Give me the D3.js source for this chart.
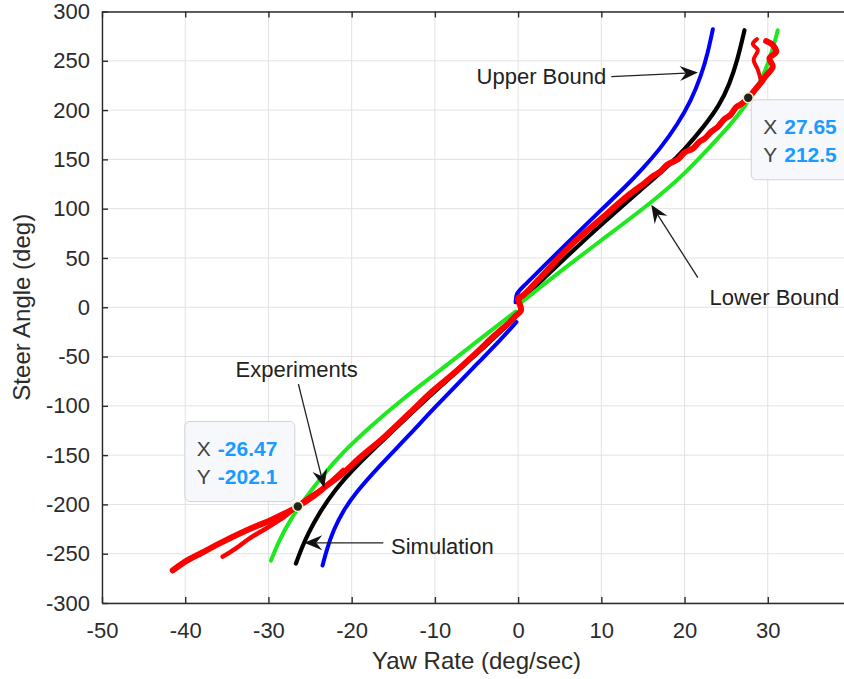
<!DOCTYPE html>
<html>
<head>
<meta charset="utf-8">
<script src="https://cdn.jsdelivr.net/npm/d3@7"></script>
<style>
  body { margin: 0; background: #fff; }
  svg { display: block; font-family: "Liberation Sans", Arial, sans-serif; }
  .grid line { stroke: #e2e2e2; stroke-width: 1; }
  .axis path, .axis line { stroke: #2b2b2b; stroke-width: 1.4; }
  .axis text { fill: #2b2b2b; font-size: 22px; font-family: "Liberation Sans", Arial, sans-serif; }
  .curve { fill: none; stroke-linecap: round; stroke-linejoin: round; }
  .note { fill: #222; font-size: 22px; }
</style>
</head>
<body>
<svg width="844" height="679"></svg>
<script>
var svg = d3.select("svg");

// tick values (the 40 tick sits on the cropped right edge)
var xTicks = [-50, -40, -30, -20, -10, 0, 10, 20, 30];
var yTicks = [-300, -250, -200, -150, -100, -50, 0, 50, 100, 150, 200, 250, 300];

// upper bound (blue), two branches split at zero
var upperNeg = [[-23.5, -262], [-23, -246], [-22.2, -226], [-21, -206], [-19.5, -188], [-16.8, -162],
                [-13, -129], [-10.4, -105], [-5, -58], [-2, -32], [-0.2, -15]];
var upperPos = [[-0.3, 5], [-0.25, 14], [0.5, 20], [3, 41], [6, 66], [10, 99], [13, 123], [15, 141],
                [17, 160], [19.2, 186], [20.8, 210], [22, 235], [22.8, 258], [23.4, 282]];

// simulation (black)
var simNeg = [[-26.7, -260], [-26, -244], [-25.2, -229], [-24, -210], [-22, -185], [-19.5, -161],
              [-15, -125], [-10.4, -88], [-5, -48], [-0.4, -11]];
var simPos = [[0.2, 6], [5, 45], [10, 84], [15, 121], [18, 143], [20, 160], [22.4, 184], [24.2, 205],
              [25.4, 226], [26.4, 252], [27.2, 281]];

// lower bound (green)
var lowerNeg = [[-29.7, -257], [-28.8, -238], [-27.5, -217], [-25.6, -194], [-23.5, -171], [-21.2, -148],
                [-17.5, -119], [-14, -94], [-10, -68], [-5, -35], [-0.3, -4.5]];
var lowerPos = [[0.1, 3], [5, 36], [10, 68], [16, 106], [20, 135], [23.2, 164], [25.5, 185], [27.2, 203],
                [28.5, 220], [29.4, 234], [30.1, 249], [30.7, 265], [31.2, 281]];

// experiments (red), several noisy runs
var expMain = [[-41.5, -267], [-40, -258], [-38, -249], [-35.5, -238], [-32, -224],
               [-30, -217], [-28, -209], [-26.47, -202.1], [-24.5, -191], [-23, -181], [-21, -168],
               [-19.2, -154], [-16, -131], [-13, -107], [-10.4, -86], [-8, -69], [-5, -46], [-3, -30],
               [-1, -15], [-0.4, -9.5], [0.35, -3], [0.15, 4], [0, 9], [0.6, 12], [3, 33], [6, 60],
               [10, 90], [13, 112], [15.2, 126], [16.2, 133], [17, 137], [18, 145], [19.2, 150], [20, 157],
               [21, 161], [21.8, 168], [22.4, 171], [23.2, 178], [24, 183], [24.8, 191], [25.5, 195],
               [26.2, 203], [26.8, 206], [27.65, 212.5], [28.6, 222], [29.2, 228], [29.7, 234], [30.6, 244],
               [30.2, 252.5], [31, 259], [30.6, 266], [29.8, 270]];
var expRun2 = [[29.2, 229], [28.8, 241], [28.3, 251], [28.8, 261], [28.2, 267], [28.7, 272]];
var expRun3 = [[-21, -165], [-23.5, -184], [-25.5, -195], [-27, -205], [-28, -212], [-30, -223],
               [-32, -233], [-34, -245], [-35.5, -253]];

// data tips
var tipX = [27.65, -26.47];
var tipY = [212.5, -202.1];

var x = d3.scaleLinear().domain([-50, 40]).range([102, 851]);
var y = d3.scaleLinear().domain([-300, 300]).range([603, 11.5]);

var gridG = svg.append("g").attr("class", "grid");
gridG.selectAll(".gx").data(xTicks).enter().append("line")
  .attr("x1", d => x(d)).attr("x2", d => x(d))
  .attr("y1", y(300)).attr("y2", y(-300));
gridG.selectAll(".gy").data(yTicks).enter().append("line")
  .attr("x1", x(-50)).attr("x2", x(40))
  .attr("y1", d => y(d)).attr("y2", d => y(d));

var fmt = d => String(d);

svg.append("g").attr("class", "axis")
  .attr("transform", "translate(0," + y(-300) + ")")
  .call(d3.axisBottom(x).tickValues(xTicks).tickFormat(fmt).tickSizeInner(-6).tickSizeOuter(0).tickPadding(19));
svg.append("g").attr("class", "axis")
  .attr("transform", "translate(" + x(-50) + ",0)")
  .call(d3.axisLeft(y).tickValues(yTicks).tickFormat(fmt).tickSizeInner(-6).tickSizeOuter(0).tickPadding(12));
svg.append("g").attr("class", "axis")
  .attr("transform", "translate(0," + y(300) + ")")
  .call(d3.axisTop(x).tickValues(xTicks).tickFormat("").tickSizeInner(-6).tickSizeOuter(0));
svg.append("g").attr("class", "axis")
  .attr("transform", "translate(" + x(40) + ",0)")
  .call(d3.axisRight(y).tickValues(yTicks).tickFormat("").tickSizeInner(-6).tickSizeOuter(0));

// axis titles
svg.append("text")
  .attr("x", (x(-50) + x(40)) / 2).attr("y", 669)
  .attr("text-anchor", "middle").attr("fill", "#2b2b2b").attr("font-size", 24)
  .text("Yaw Rate (deg/sec)");
svg.append("text")
  .attr("transform", "translate(30," + (y(300) + y(-300)) / 2 + ") rotate(-90)")
  .attr("text-anchor", "middle").attr("fill", "#2b2b2b").attr("font-size", 24)
  .text("Steer Angle (deg)");

// smooth model curves, looser curve for the measured runs
var smooth = d3.line().x(d => x(d[0])).y(d => y(d[1])).curve(d3.curveBasis);
var rough = d3.line().x(d => x(d[0])).y(d => y(d[1])).curve(d3.curveCatmullRom.alpha(0.5));

var curves = [
  { pts: upperNeg, c: "#0000ff", w: 4, f: smooth }, { pts: upperPos, c: "#0000ff", w: 4, f: smooth },
  { pts: simNeg, c: "#000000", w: 4.2, f: smooth }, { pts: simPos, c: "#000000", w: 4.2, f: smooth },
  { pts: lowerNeg, c: "#1ee81e", w: 4, f: smooth }, { pts: lowerPos, c: "#1ee81e", w: 4, f: smooth },
  { pts: expRun3, c: "#ff0000", w: 4.5, f: rough }, { pts: expRun2, c: "#ff0000", w: 4, f: rough },
  { pts: expMain, c: "#ff0000", w: 6, f: rough }
];

svg.append("g").selectAll("path").data(curves).enter().append("path")
  .attr("class", "curve")
  .attr("d", d => d.f(d.pts))
  .attr("stroke", d => d.c)
  .attr("stroke-width", d => d.w);

// annotations with arrows
function arrow(g, x1, y1, x2, y2) {
  var dx = x2 - x1, dy = y2 - y1, len = Math.sqrt(dx * dx + dy * dy);
  var ux = dx / len, uy = dy / len, px = -uy, py = ux;
  var bx = x2 - 18 * ux, by = y2 - 18 * uy;
  var nx = x2 - 12 * ux, ny = y2 - 12 * uy;
  g.append("line").attr("x1", x1).attr("y1", y1).attr("x2", nx).attr("y2", ny)
    .attr("stroke", "#222").attr("stroke-width", 1.3);
  g.append("path")
    .attr("d", "M" + x2 + "," + y2 + "L" + (bx + 7.5 * px) + "," + (by + 7.5 * py) +
               "L" + nx + "," + ny + "L" + (bx - 7.5 * px) + "," + (by - 7.5 * py) + "Z")
    .attr("fill", "#111");
}

var notes = [
  { t: "Upper Bound", tx: 2.8, ty: 234, ax: 11.2, ay: 234, bx: 21.6, by: 238 },
  { t: "Lower Bound", tx: 30.8, ty: 10.5, ax: 21.6, ay: 30, bx: 16.0, by: 104 },
  { t: "Experiments", tx: -26.6, ty: -63, ax: -26.4, ay: -78, bx: -23.3, by: -183 },
  { t: "Simulation", tx: -9.1, ty: -242, ax: -16.2, ay: -239, bx: -25.7, by: -239 }
];

var noteG = svg.append("g");
notes.forEach(function(n) {
  noteG.append("text").attr("class", "note")
    .attr("x", x(n.tx)).attr("y", y(n.ty)).attr("dy", "0.36em")
    .attr("text-anchor", "middle").text(n.t);
  arrow(noteG, x(n.ax), y(n.ay), x(n.bx), y(n.by));
});

// data tips
var tipPlace = [{ dx: 3, dy: 2 }, { dx: -113, dy: -85 }];
var tipG = svg.append("g");
tipX.forEach(function(v, i) {
  var cx = x(v), cy = y(tipY[i]);
  var bx = cx + tipPlace[i].dx, by = cy + tipPlace[i].dy;
  tipG.append("rect")
    .attr("x", bx).attr("y", by).attr("width", 110).attr("height", 80).attr("rx", 5)
    .attr("fill", "#f7f8fb").attr("stroke", "#cfd2d8").attr("stroke-width", 1);
  [["X", v], ["Y", tipY[i]]].forEach(function(r, j) {
    var t = tipG.append("text").attr("x", bx + 12).attr("y", by + 27 + j * 28).attr("dy", "0.36em")
      .attr("font-size", 21);
    t.append("tspan").attr("fill", "#444").text(r[0]);
    t.append("tspan").attr("x", bx + 33).attr("fill", "#1a9bff").attr("font-weight", "bold").text(String(r[1]));
  });
  tipG.append("circle").attr("cx", cx).attr("cy", cy).attr("r", 5)
    .attr("fill", "#222").attr("stroke", "#f3eec0").attr("stroke-width", 1.6);
});
</script>
</body>
</html>
